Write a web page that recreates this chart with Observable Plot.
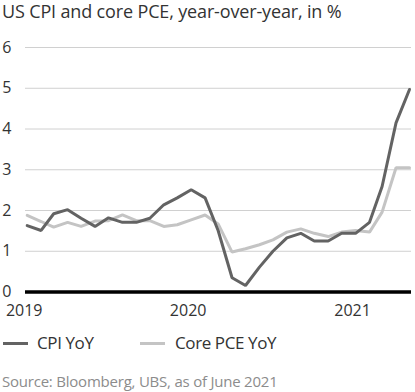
<!DOCTYPE html>
<html>
<head>
<meta charset="utf-8">
<script src="https://cdn.jsdelivr.net/npm/d3@7"></script>
<script src="https://cdn.jsdelivr.net/npm/@observablehq/plot@0.6"></script>
<style>
  body { margin: 0; background: #fff; font-family: "Open Sans", sans-serif; }
  #wrap { position: relative; width: 415px; height: 392px; overflow: hidden; }
  #title { position: absolute; left: 2px; top: -1px; font-size: 18px; letter-spacing: -0.15px; line-height: normal; color: #333; white-space: nowrap; }
  #chart { position: absolute; left: 0; top: 30px; }
  .sw { position: absolute; height: 3px; width: 25px; }
  .lg { position: absolute; font-size: 17px; letter-spacing: -0.4px; line-height: normal; color: #333; white-space: nowrap; }
  #source { position: absolute; left: 2px; top: 370.5px; font-size: 15px; letter-spacing: -0.22px; line-height: normal; color: #8c8c8c; white-space: nowrap; }
</style>
</head>
<body>
<div id="wrap">
  <div id="title"></div>
  <div id="chart"></div>
  <div id="legend"></div>
  <div id="source"></div>
</div>
<script>
const titleText = "US CPI and core PCE, year-over-year, in %";
const sourceText = "Source: Bloomberg, UBS, as of June 2021";
const seriesNames = ["CPI YoY", "Core PCE YoY"];
const seriesColors = ["#636363", "#c4c4c4"];

const months = [
  "2019-01","2019-02","2019-03","2019-04","2019-05","2019-06","2019-07","2019-08","2019-09","2019-10","2019-11","2019-12",
  "2020-01","2020-02","2020-03","2020-04","2020-05","2020-06","2020-07","2020-08","2020-09","2020-10","2020-11","2020-12",
  "2021-01","2021-02","2021-03","2021-04","2021-05"
];
const cpi = [1.63, 1.51, 1.92, 2.02, 1.81, 1.61, 1.82, 1.71, 1.71, 1.81, 2.14, 2.31,
             2.51, 2.31, 1.51, 0.35, 0.16, 0.61, 1.00, 1.33, 1.44, 1.25, 1.25, 1.44,
             1.44, 1.71, 2.59, 4.15, 4.97];
const corePce = [1.88, 1.73, 1.59, 1.71, 1.61, 1.74, 1.75, 1.89, 1.75, 1.75, 1.61, 1.65,
                 1.77, 1.89, 1.67, 0.98, 1.06, 1.16, 1.28, 1.47, 1.55, 1.44, 1.36, 1.47,
                 1.51, 1.47, 1.96, 3.05, 3.05];
const yTicks = [0, 1, 2, 3, 4, 5, 6];
const xTickMonths = ["2019-01", "2020-01", "2021-01"];

const parse = d3.utcParse("%Y-%m");
const rows = [];
months.forEach((m, i) => {
  rows.push({date: parse(m), value: cpi[i], series: seriesNames[0]});
});
months.forEach((m, i) => {
  rows.push({date: parse(m), value: corePce[i], series: seriesNames[1]});
});
const rowsCore = rows.filter(r => r.series === seriesNames[1]);
const rowsCpi = rows.filter(r => r.series === seriesNames[0]);

const chart = Plot.plot({
  width: 415,
  height: 300,
  marginTop: 17,
  marginBottom: 38.5,
  marginLeft: 25,
  marginRight: 4,
  style: {fontFamily: "Open Sans", fontSize: "16px", color: "#333", background: "transparent"},
  x: {type: "utc", domain: [parse(months[0]), parse(months[months.length - 1])], insetLeft: 1.7, insetRight: 2, label: null},
  y: {domain: [0, 6], label: null},
  color: {domain: seriesNames, range: seriesColors},
  marks: [
    Plot.ruleY(yTicks.filter(d => d > 0), {stroke: "#d0d0d0", strokeWidth: 1}),
    Plot.lineY(rowsCore, {x: "date", y: "value", stroke: "series", strokeWidth: 3, strokeLinejoin: "miter"}),
    Plot.lineY(rowsCpi, {x: "date", y: "value", stroke: "series", strokeWidth: 3, strokeLinejoin: "miter"}),
    Plot.ruleY([0], {stroke: "#000", strokeWidth: 3.5}),
    Plot.axisY(yTicks, {tickSize: 0, tickPadding: 14, fontSize: 16, label: null}),
    Plot.axisX(xTickMonths.map(parse), {tickSize: 0, tickPadding: 13, fontSize: 16, dx: -3, tickFormat: d3.utcFormat("%Y"), label: null})
  ]
});
document.getElementById("chart").appendChild(chart);

document.getElementById("title").textContent = titleText;
document.getElementById("source").textContent = sourceText;

const legend = document.getElementById("legend");
const legendPos = [{sw: 2.7, tx: 37}, {sw: 140, tx: 175}];
seriesNames.forEach((name, i) => {
  const sw = document.createElement("div");
  sw.className = "sw";
  sw.style.left = legendPos[i].sw + "px";
  sw.style.top = "341.5px";
  sw.style.background = seriesColors[i];
  legend.appendChild(sw);
  const t = document.createElement("div");
  t.className = "lg";
  t.style.left = legendPos[i].tx + "px";
  t.style.top = "331px";
  t.textContent = name;
  legend.appendChild(t);
});
</script>
</body>
</html>
